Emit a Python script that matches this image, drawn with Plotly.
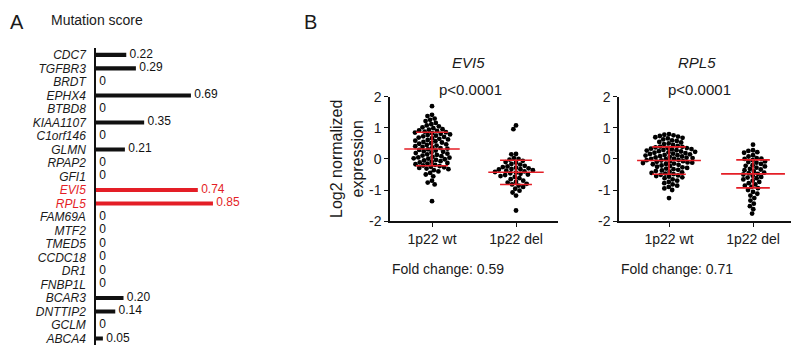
import math
import plotly.graph_objects as go

# ---------------- Data ----------------
genes = ["CDC7", "TGFBR3", "BRDT", "EPHX4", "BTBD8", "KIAA1107", "C1orf146", "GLMN",
         "RPAP2", "GFI1", "EVI5", "RPL5", "FAM69A", "MTF2", "TMED5", "CCDC18", "DR1",
         "FNBP1L", "BCAR3", "DNTTIP2", "GCLM", "ABCA4"]
mutation_scores = [0.22, 0.29, 0, 0.69, 0, 0.35, 0, 0.21, 0, 0, 0.74, 0.85, 0, 0, 0, 0,
                   0, 0, 0.20, 0.14, 0, 0.05]
highlight_genes = ["EVI5", "RPL5"]

group_labels = ["1p22 wt", "1p22 del"]

evi5_wt = [1.70, 1.42, 1.38, 1.30, 1.26, 1.22, 1.16, 1.12, 1.08, 1.05, 1.02, 0.99, 0.96,
           0.94, 0.92, 0.90, 0.88, 0.86, 0.85, 0.83, 0.81, 0.79, 0.77, 0.75, 0.73, 0.71,
           0.69, 0.67, 0.65, 0.63, 0.61, 0.59, 0.57, 0.55, 0.53, 0.51, 0.49, 0.47, 0.45,
           0.43, 0.41, 0.39, 0.37, 0.35, 0.33, 0.31, 0.29, 0.27, 0.25, 0.23, 0.21, 0.19,
           0.17, 0.15, 0.13, 0.11, 0.09, 0.07, 0.05, 0.04, 0.02, 0.01, -0.01, -0.03,
           -0.05, -0.07, -0.09, -0.11, -0.13, -0.15, -0.17, -0.19, -0.21, -0.23, -0.25,
           -0.27, -0.29, -0.31, -0.33, -0.36, -0.40, -0.45, -0.50, -0.56, -0.70, -0.76,
           -0.82, -1.36]
evi5_del = [1.08, 0.96, 0.16, 0.15, 0.03, 0.00, -0.02, -0.06, -0.10, -0.12, -0.16, -0.18,
            -0.22, -0.24, -0.26, -0.28, -0.30, -0.32, -0.33, -0.34, -0.36, -0.38, -0.40,
            -0.42, -0.44, -0.46, -0.48, -0.50, -0.52, -0.55, -0.58, -0.62, -0.65, -0.70,
            -0.74, -0.76, -0.80, -0.82, -0.86, -0.90, -0.96, -1.02, -1.08, -1.18, -1.66]
rpl5_wt = [0.80, 0.78, 0.76, 0.74, 0.72, 0.70, 0.68, 0.66, 0.63, 0.60, 0.58, 0.55, 0.53,
           0.50, 0.48, 0.45, 0.42, 0.40, 0.39, 0.37, 0.36, 0.35, 0.33, 0.32, 0.31, 0.29,
           0.28, 0.27, 0.25, 0.24, 0.23, 0.21, 0.20, 0.19, 0.17, 0.16, 0.15, 0.13, 0.12,
           0.11, 0.09, 0.08, 0.07, 0.05, 0.04, 0.03, 0.01, 0.00, -0.01, -0.03, -0.04,
           -0.05, -0.07, -0.08, -0.09, -0.11, -0.12, -0.13, -0.15, -0.16, -0.17, -0.19,
           -0.21, -0.23, -0.25, -0.27, -0.29, -0.31, -0.33, -0.35, -0.37, -0.39, -0.41,
           -0.43, -0.45, -0.47, -0.49, -0.51, -0.53, -0.55, -0.57, -0.59, -0.62, -0.66,
           -0.70, -0.74, -0.78, -0.82, -0.86, -0.90, -0.95, -1.00, -1.26]
rpl5_del = [0.46, 0.28, 0.26, 0.22, 0.20, 0.12, 0.08, 0.03, 0.01, 0.00, -0.04, -0.08, -0.10,
            -0.12, -0.16, -0.20, -0.22, -0.24, -0.28, -0.32, -0.34, -0.36, -0.40, -0.44,
            -0.46, -0.48, -0.50, -0.54, -0.58, -0.60, -0.62, -0.66, -0.70, -0.74, -0.78,
            -0.82, -0.86, -0.90, -0.94, -1.00, -1.06, -1.12, -1.18, -1.26, -1.34, -1.44,
            -1.52, -1.62, -1.76]

means_evi5 = [0.32, -0.43]
sds_evi5 = [0.54, 0.39]
means_rpl5 = [-0.05, -0.48]
sds_rpl5 = [0.44, 0.45]

panels_b = [
    {"gene": "EVI5", "groups": [evi5_wt, evi5_del], "means": means_evi5, "sds": sds_evi5,
     "p": "p<0.0001", "fold": "Fold change: 0.59"},
    {"gene": "RPL5", "groups": [rpl5_wt, rpl5_del], "means": means_rpl5, "sds": sds_rpl5,
     "p": "p<0.0001", "fold": "Fold change: 0.71"},
]

# ---------------- Styling ----------------
W, H = 800, 359
FONT = "Arial, Liberation Sans, sans-serif"
TXT = "#1a1a1a"
RED = "#e41e26"


def px(x):
    return x / W


def py(y):
    return 1 - y / H


fig = go.Figure()

# ---------------- Panel A ----------------
bar_colors = [RED if g in highlight_genes else "#111111" for g in genes]
labels = [(" %.2f" % v) if v else " 0" for v in mutation_scores]
fig.add_trace(go.Bar(
    x=mutation_scores, y=genes, orientation="h",
    marker=dict(color=bar_colors, line=dict(width=0)),
    width=0.3, xaxis="x", yaxis="y", showlegend=False,
))
fig.add_trace(go.Scatter(
    x=mutation_scores, y=genes, mode="text", text=labels,
    textposition="middle right",
    textfont=dict(family=FONT, size=12, color=bar_colors),
    cliponaxis=False, xaxis="x", yaxis="y", showlegend=False,
))
ticktext = []
for g in genes:
    if g in highlight_genes:
        ticktext.append("<span style='color:%s'><i>%s</i></span>" % (RED, g))
    else:
        ticktext.append("<i>%s</i>" % g)

a_x0 = 96
a_unit = 137.6
layout = dict(
    xaxis=dict(domain=[px(a_x0), px(a_x0 + a_unit)], range=[0, 1], visible=False,
               anchor="y"),
    yaxis=dict(domain=[py(353), py(42)], type="category", categoryorder="array",
               categoryarray=genes, range=[len(genes) - 0.5, -0.5],
               tickvals=genes, ticktext=ticktext,
               showline=True, linecolor="#111111", linewidth=1.5,
               ticks="outside", ticklen=6, tickcolor="rgba(0,0,0,0)",
               tickfont=dict(family=FONT, size=12, color=TXT), anchor="x",
               showgrid=False, zeroline=False),
)

# ---------------- Panel B ----------------
b_specs = [
    {"x0": 390, "x1": 558, "range": [-0.5, 1.5], "mean_hw": 0.33, "sd_hw": 0.19},
    {"x0": 619, "x1": 791, "range": [-0.595, 1.452], "mean_hw": 0.38, "sd_hw": 0.2},
]
y_top, y_bot = 93, 223
px_per_y = (y_bot - y_top) / 4.0
DIAM = 4.7


def swarm(values, px_per_x):
    """Beeswarm offsets (in x data units) computed from the values."""
    order = sorted(range(len(values)), key=lambda i: -values[i])
    placed = []
    offs = [0.0] * len(values)
    for i in order:
        ypx = values[i] * px_per_y
        near = [(xx, yy) for xx, yy in placed if abs(yy - ypx) < DIAM]
        cands = [0.0]
        for xx, yy in near:
            dx = math.sqrt(DIAM ** 2 - (yy - ypx) ** 2)
            cands += [xx + dx, xx - dx]
        cands.sort(key=lambda c: (abs(c), c))
        for c in cands:
            if all((c - xx) ** 2 + (ypx - yy) ** 2 >= DIAM ** 2 - 1e-6 for xx, yy in near):
                break
        placed.append((c, ypx))
        offs[i] = c / px_per_x
    return offs


annotations = [
    dict(text="A", x=px(8), y=py(15), xanchor="left", yanchor="middle",
         font=dict(family=FONT, size=20, color=TXT)),
    dict(text="Mutation score", x=px(49), y=py(13), xanchor="left", yanchor="middle",
         font=dict(family=FONT, size=14, color=TXT)),
    dict(text="B", x=px(302), y=py(15), xanchor="left", yanchor="middle",
         font=dict(family=FONT, size=20, color=TXT)),
    dict(text="Log2 normalized<br>expression", x=px(347), y=py(158), textangle=-90,
         xanchor="center", yanchor="middle",
         font=dict(family=FONT, size=16, color=TXT)),
]

for k, (panel, spec) in enumerate(zip(panels_b, b_specs)):
    xa = "x%d" % (k + 2)
    ya = "y%d" % (k + 2)
    px_per_x = (spec["x1"] - spec["x0"]) / (spec["range"][1] - spec["range"][0])
    xs, ys = [], []
    for gi, vals in enumerate(panel["groups"]):
        offs = swarm(vals, px_per_x)
        xs += [gi + o for o in offs]
        ys += list(vals)
    fig.add_trace(go.Scatter(x=xs, y=ys, mode="markers",
                             marker=dict(size=4.8, color="#000000", line=dict(width=0)),
                             xaxis=xa, yaxis=ya, showlegend=False, cliponaxis=False))
    lx, ly = [], []
    for gi, (m, s) in enumerate(zip(panel["means"], panel["sds"])):
        lx += [gi - spec["mean_hw"], gi + spec["mean_hw"], None]
        ly += [m, m, None]
        lx += [gi - spec["sd_hw"], gi + spec["sd_hw"], None]
        ly += [m + s, m + s, None]
        lx += [gi - spec["sd_hw"], gi + spec["sd_hw"], None]
        ly += [m - s, m - s, None]
        lx += [gi, gi, None]
        ly += [m - s, m + s, None]
    fig.add_trace(go.Scatter(x=lx, y=ly, mode="lines",
                             line=dict(color=RED, width=1.6),
                             xaxis=xa, yaxis=ya, showlegend=False, cliponaxis=False))

    layout["xaxis%d" % (k + 2)] = dict(
        domain=[px(spec["x0"]), px(spec["x1"])], range=spec["range"],
        tickvals=[0, 1], ticktext=group_labels, anchor=ya,
        showline=True, linecolor="#111111", linewidth=1.5,
        ticks="outside", ticklen=4, tickwidth=1.2, tickcolor="#111111",
        tickfont=dict(family=FONT, size=14, color=TXT),
        showgrid=False, zeroline=False)
    layout["yaxis%d" % (k + 2)] = dict(
        domain=[py(y_bot), py(y_top)], range=[-2, 2],
        tickvals=[-2, -1, 0, 1, 2], ticktext=["-2", "-1", "0", "1", "2"], anchor=xa,
        showline=True, linecolor="#111111", linewidth=1.5,
        ticks="outside", ticklen=4, tickwidth=1.2, tickcolor="#111111",
        tickfont=dict(family=FONT, size=14, color=TXT),
        showgrid=False, zeroline=False)

    annotations.append(dict(text="<i>%s</i>" % panel["gene"], x=px(spec["x0"] + 78),
                            y=py(57), xanchor="center", yanchor="middle",
                            font=dict(family=FONT, size=15, color=TXT)))
    annotations.append(dict(text=panel["p"], x=px(spec["x0"] + 80), y=py(85),
                            xanchor="center", yanchor="middle",
                            font=dict(family=FONT, size=15, color=TXT)))
    annotations.append(dict(text=panel["fold"], x=px(spec["x0"]), y=py(273),
                            xanchor="left", yanchor="middle",
                            font=dict(family=FONT, size=14, color=TXT)))

for a in annotations:
    a.update(xref="paper", yref="paper", showarrow=False)

fig.update_layout(
    width=W, height=H, margin=dict(l=0, r=0, t=0, b=0),
    paper_bgcolor="white", plot_bgcolor="white",
    annotations=annotations, font=dict(family=FONT, color=TXT),
    **layout,
)

fig.write_html("out.html", config={"displayModeBar": False},
               post_script="document.body.style.margin='0';"
                           "document.body.style.overflow='hidden';")
